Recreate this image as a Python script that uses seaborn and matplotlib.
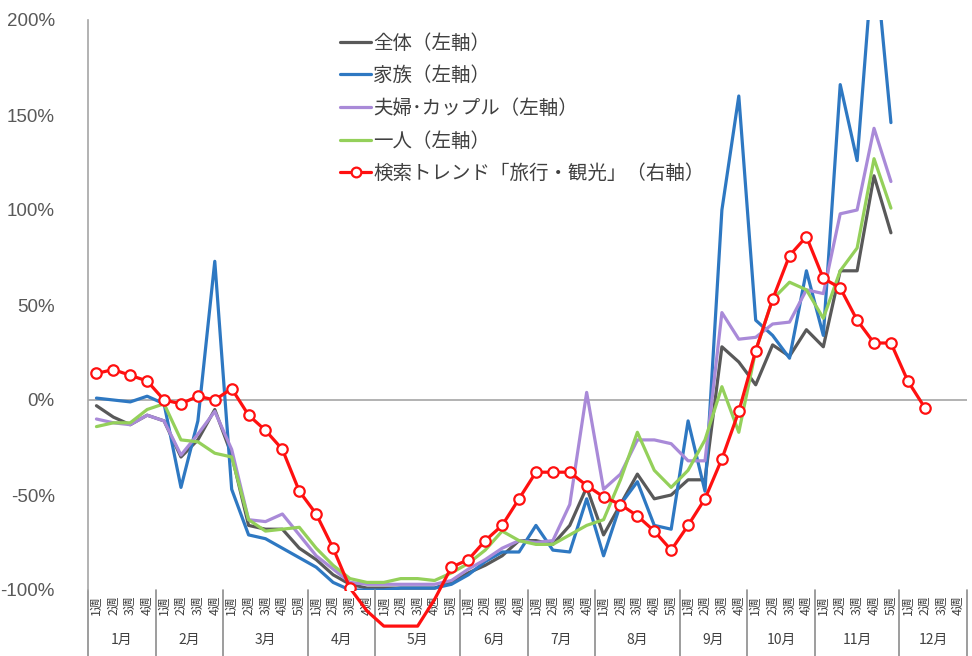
import matplotlib
matplotlib.use("Agg")
import matplotlib.pyplot as plt
from matplotlib.lines import Line2D
import numpy as np
import pandas as pd
import seaborn as sns

# ---- data -------------------------------------------------------------
months = ["1月", "2月", "3月", "4月", "5月", "6月",
          "7月", "8月", "9月", "10月", "11月", "12月"]
weeks_per_month = [4, 4, 5, 4, 5, 4, 4, 5, 4, 4, 5, 4]
week_labels = [f"{w}週" for n in weeks_per_month for w in range(1, n + 1)]

# year-on-year change (%), left axis
overall = [-3, -9, -13, -8, -11, -30, -21, -5, -29, -66, -68, -68, -78, -84,
           -92, -97, -99, -99, -99, -99, -99, -96, -91, -87, -82, -74, -74,
           -76, -66, -46, -71, -55, -39, -52, -50, -42, -42, 28, 20, 8, 29,
           23, 37, 28, 68, 68, 118, 88]
family = [1, 0, -1, 2, -2, -46, -11, 73, -47, -71, -73, -78, -83, -88, -96,
          -100, -100, -100, -99, -99, -99, -97, -92, -85, -80, -80, -66, -79,
          -80, -52, -82, -55, -43, -66, -68, -11, -48, 100, 160, 42, 34, 22,
          68, 34, 166, 126, 240, 146]
couple = [-10, -12, -13, -8, -11, -29, -18, -6, -26, -63, -64, -60, -71, -82,
          -89, -96, -97, -97, -97, -97, -97, -95, -89, -84, -78, -74, -75,
          -74, -55, 4, -47, -39, -21, -21, -23, -32, -32, 46, 32, 33, 40, 41,
          58, 56, 98, 100, 143, 115]
solo = [-14, -12, -12, -5, -2, -21, -22, -28, -30, -63, -69, -68, -67, -78,
        -87, -94, -96, -96, -94, -94, -95, -91, -86, -79, -69, -74, -76, -76,
        -71, -66, -63, -42, -17, -37, -46, -37, -21, 7, -17, 26, 53, 62, 58,
        43, 68, 80, 127, 101]
# search trend "旅行・観光", right axis
search = [14, 16, 13, 10, 0, -2, 2, 0, 6, -8, -16, -26, -48, -60, -78, -99,
          -111, -119, -119, -119, -105, -88, -84, -74, -66, -52, -38, -38,
          -38, -45, -51, -55, -61, -69, -79, -66, -52, -31, -6, 26, 53, 76,
          86, 64, 59, 42, 30, 30, 10, -4]

series_names = ["全体（左軸）", "家族（左軸）", "夫婦･カップル（左軸）", "一人（左軸）"]
series_values = [overall, family, couple, solo]
series_colors = ["#595959", "#2e78c2", "#a98ad8", "#94d05a"]
search_name = "検索トレンド「旅行・観光」（右軸）"
search_color = "#ff1010"

left_df = pd.concat(
    [pd.DataFrame({"week": np.arange(len(v)), "value": v, "series": n})
     for n, v in zip(series_names, series_values)],
    ignore_index=True,
)
search_df = pd.DataFrame({"week": np.arange(len(search)), "value": search})

# ---- figure -----------------------------------------------------------
sns.set_theme(style="white")
plt.rcParams["font.family"] = ["Noto Sans CJK JP", "DejaVu Sans"]

W, H = 972, 656
fig = plt.figure(figsize=(W / 100, H / 100), dpi=100)
ax_l, ax_r, ax_t, ax_b = 88, 967, 20, 590
ax = fig.add_axes([ax_l / W, (H - ax_b) / H, (ax_r - ax_l) / W, (ax_b - ax_t) / H])

sns.lineplot(data=left_df, x="week", y="value", hue="series",
             hue_order=series_names, palette=series_colors,
             linewidth=2.3, ax=ax, legend=False)

n_weeks = len(week_labels)
ax.set_xlim(-0.5, n_weeks - 0.5)
ax.set_ylim(-100, 200)
ax.set_xlabel("")
ax.set_ylabel("")

# y axis
yticks = [-100, -50, 0, 50, 100, 150, 200]
ax.set_yticks(yticks)
ax.set_yticklabels([f"{v}%" for v in yticks], fontfamily="Liberation Sans",
                   fontsize=13.5, color="#595959")
ax.tick_params(axis="y", length=0, pad=24)

# week labels
ax.set_xticks(np.arange(n_weeks))
ax.set_xticklabels(week_labels, rotation=90, fontsize=9, color="#404040")
ax.tick_params(axis="x", length=0, pad=4)

for side in ["top", "right", "bottom"]:
    ax.spines[side].set_visible(False)
ax.spines["left"].set_color("#a6a6a6")
ax.spines["left"].set_linewidth(1.2)
ax.axhline(0, color="#a6a6a6", linewidth=1.2, zorder=1)

# month separators and month labels below the axis
xtrans = ax.get_xaxis_transform()
fig_bottom = -(H - ax_b) / (ax_b - ax_t)
bounds = np.concatenate([[0], np.cumsum(weeks_per_month)]) - 0.5
for b in bounds:
    ax.add_line(Line2D([b, b], [0, fig_bottom], transform=xtrans,
                       color="#8c8c8c", linewidth=1.2, clip_on=False))
month_y = -(640 - ax_b) / (ax_b - ax_t)
for m, lo, hi in zip(months, bounds[:-1], bounds[1:]):
    ax.text((lo + hi) / 2, month_y, m, transform=xtrans, ha="center",
            va="center", fontsize=10, color="#404040")

# search trend on its own (right) axis
ax2 = ax.twinx()
ax2.set_ylim(-100, 200)
sns.lineplot(data=search_df, x="week", y="value", color=search_color,
             linewidth=2.3, ax=ax2, legend=False)
for ln in ax2.lines:
    ln.set_clip_on(False)
ax2.plot(search_df["week"], search_df["value"], linestyle="none",
         marker="o", markersize=7.5, markerfacecolor="white",
         markeredgecolor=search_color, markeredgewidth=1.6)
ax2.set_yticks([])
ax2.set_ylabel("")
ax2.set_xlim(-0.5, n_weeks - 0.5)
for side in ["top", "right", "bottom", "left"]:
    ax2.spines[side].set_visible(False)

# legend
handles = [Line2D([], [], color=c, linewidth=2.3) for c in series_colors]
handles.append(Line2D([], [], color=search_color, linewidth=2.3, marker="o",
                      markersize=7, markerfacecolor="white",
                      markeredgecolor=search_color, markeredgewidth=1.6))
ax2.legend(handles, series_names + [search_name], loc="upper left",
           bbox_to_anchor=(0.287, 0.978), frameon=False, fontsize=14,
           handlelength=1.6, handletextpad=0.1, labelspacing=0.6,
           borderpad=0, borderaxespad=0, labelcolor="#404040")

fig.savefig("out.png", dpi=100)
